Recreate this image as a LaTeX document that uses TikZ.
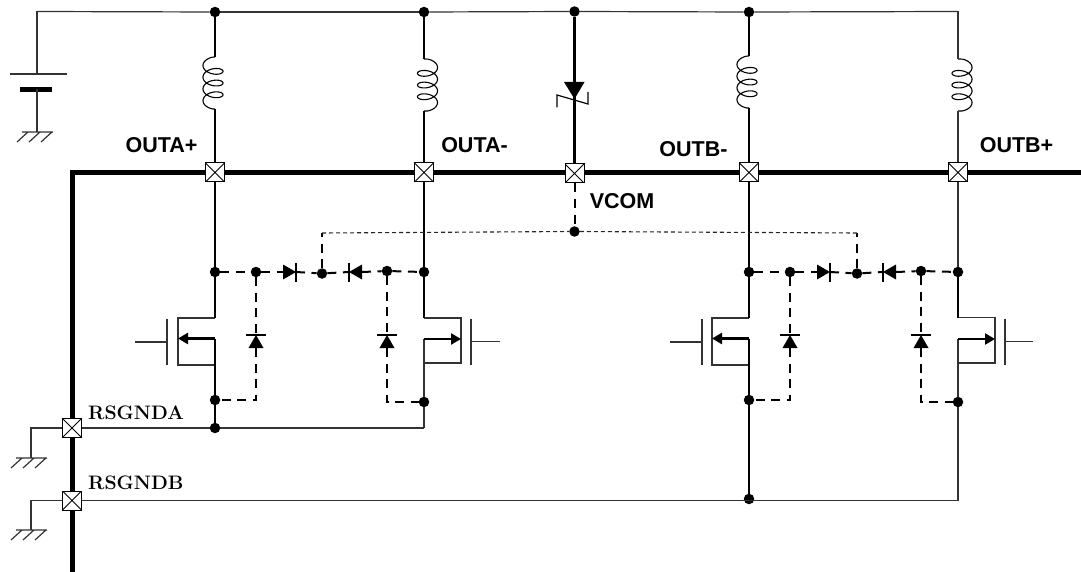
\documentclass[tikz,border=0pt]{standalone}
\usepackage{fontspec}
\setsansfont{Liberation Sans}
\usetikzlibrary{arrows.meta}
\tikzset{
  thinw/.style={line width=1.2pt,color=black!80},
  midw/.style={line width=2.4pt},
  busw/.style={line width=5pt},
  dashw/.style={line width=2pt,dash pattern=on 9pt off 6.5pt},
  finew/.style={line width=1.1pt,color=black!85,dash pattern=on 4pt off 3pt},
  dot/.style={circle,fill=black,inner sep=0pt,minimum size=10.5pt},
  pad/.style={rectangle,draw=black,line width=1pt,fill=white,inner sep=0pt,minimum size=19pt,
    path picture={\draw[line width=.9pt] (path picture bounding box.north west)--(path picture bounding box.south east)
      (path picture bounding box.north east)--(path picture bounding box.south west);}},
  sanslabel/.style={font=\sffamily\bfseries\fontsize{21.5pt}{24pt}\selectfont,inner sep=0pt},
  seriflabel/.style={font=\bfseries\fontsize{19.5pt}{22pt}\selectfont,inner sep=0pt},
  fetarrow/.style={line width=2.4pt,-{Triangle[length=10pt,width=11pt]}},
}
% inductor: centre x, top y, name, side, wire x
\newcommand\coilat[5]{%
  \coordinate (#3t) at (#5,#2); \coordinate (#3b) at (#5,#2+52);
  \draw[line width=1.1pt] (#3t) -- plot[domain=0:1260,samples=200,smooth,variable=\t]
    ({#1-#4*10*sin(\t)},{#2+8.5+(\t-90)*0.0325-5.5*cos(\t)}) -- (#3b);}
% ground: x, y of horizontal bar, name
\newcommand\earth[3]{%
  \coordinate (#3) at (#1,#2);
  \draw[thinw] (#1-15,#2)--(#1+16,#2)
    (#1-20,#2+10)--(#1-9,#2) (#1-8,#2+10)--(#1+3,#2) (#1+4,#2+10)--(#1+15,#2);}
% horizontal diode: bar x, y, direction (+1 tip to right, -1 tip to left), name
\newcommand\hdiode[4]{%
  \fill (#1,#2) -- (#1-#3*13,#2-7.5) -- (#1-#3*13,#2+7.5) -- cycle;
  \draw[line width=2pt] (#1,#2-9.5)--(#1,#2+9.5);
  \coordinate (#4a) at (#1-#3*13,#2); \coordinate (#4c) at (#1,#2);}
% vertical diode, tip upward: x, bar y, name
\newcommand\vdiode[3]{%
  \fill (#1,#2) -- (#1-7.5,#2+13) -- (#1+7.5,#2+13) -- cycle;
  \draw[line width=2pt] (#1-10,#2)--(#1+10,#2);
  \coordinate (#3c) at (#1,#2); \coordinate (#3a) at (#1,#2+13);}
% MOSFET channel box
\newcommand\fetbox[8]{%
  \coordinate (#8d) at (#1,#4); \coordinate (#8s) at (#1,#6); \coordinate (#8m) at (#1,#5);
  \coordinate (#8c) at (#2,#5);
  \draw[thinw] (#8d)--(#2,#4)--(#2,#6)--(#8s);
  \draw[thinw] (#3,#7-23)--(#3,#7+23);}
\begin{document}
\begin{tikzpicture}[x=1pt,y=-1pt]
\useasboundingbox (0,0) rectangle (1081,572);
% pads
\node[pad] (pAp) at (215,172.5) {};
\node[pad] (pAm) at (424,172.5) {};
\node[pad] (pV)  at (574.5,173.5) {};
\node[pad] (pBm) at (749,172.5) {};
\node[pad] (pBp) at (958,172.5) {};
\node[pad] (pGA) at (72,428) {};
\node[pad] (pGB) at (72,500.5) {};
% top rail dots
\node[dot] (tA) at (215,12) {};
\node[dot] (tB) at (424,12) {};
\node[dot] (tV) at (574.5,11.5) {};
\node[dot] (tC) at (749,12) {};
\coordinate (tD) at (958,11.5);
\coordinate (bat) at (37,11.5);
% junction dots
\node[dot] (a1) at (215,272) {};
\node[dot] (a2) at (256,272) {};
\node[dot] (a3) at (322,273.5) {};
\node[dot] (a4) at (387,271) {};
\node[dot] (a5) at (424,272) {};
\node[dot] (a6) at (215,400) {};
\node[dot] (a7) at (215,428) {};
\node[dot] (a8) at (424,402) {};
\node[dot] (b1) at (749,272) {};
\node[dot] (b2) at (790,272) {};
\node[dot] (b3) at (857,273.5) {};
\node[dot] (b4) at (921,271) {};
\node[dot] (b5) at (958,272) {};
\node[dot] (b6) at (749,400) {};
\node[dot] (b7) at (749,499) {};
\node[dot] (b8) at (958,402) {};
\node[dot] (vc) at (574.5,231.5) {};
% rail
\draw[thinw] (bat)--(tA);
\draw[thinw] (tA)--(tB);
\draw[thinw] (tB)--(tV);
\draw[thinw] (tV)--(tC);
\draw[thinw] (tC)--(tD);
% battery
\coordinate (batp) at (37,74); \coordinate (batn) at (37,89);
\draw[thinw] (bat)--(batp);
\draw[line width=1.2pt,color=black!80] (10,74)--(67,74);
\draw[line width=5.5pt] (20,89.5)--(52,89.5);
\earth{37}{132}{gndbat}
\draw[thinw] (batn)--(gndbat);
% bus
\coordinate (bc) at (72,172.5); \coordinate (bend) at (1085,172.5); \coordinate (bbot) at (72,575);
\coordinate (bv1) at (566,172.5); \coordinate (bv2) at (584,172.5);
\draw[busw,line join=miter] (pGA)--(bc)--(pAp);
\draw[busw] (pAp)--(pAm);
\draw[busw] (pAm)--(bv1);
\draw[busw] (bv2)--(pBm);
\draw[busw] (pBm)--(pBp);
\draw[busw] (pBp)--(bend);
\draw[busw] (pGA)--(pGB);
\draw[busw] (pGB)--(bbot);
% inductors
\coilat{213}{57}{la}{1}{215}
\coilat{427.5}{59}{lb}{-1}{424}
\coilat{747}{56}{lc}{1}{749}
\coilat{962}{59}{ld}{-1}{958}
\draw[midw] (tA)--(lat);
\draw[midw] (lab)--(pAp);
\draw[midw] (tB)--(lbt);
\draw[midw] (lbb)--(pAm);
\draw[midw] (tC)--(lct);
\draw[midw] (lcb)--(pBm);
\draw[thinw] (tD)--(ldt);
\draw[thinw] (ldb)--(pBp);
% zener
\draw[midw] (tV)--(pV);
\fill (564,82)--(584.5,82)--(574.5,99)--cycle;
\draw[line width=1.2pt] (557,107.5)--(557,95)--(588,104)--(588,92);
% upper verticals
\draw[midw] (pAp)--(a1);
\draw[midw] (pAm)--(a5);
\draw[midw] (pBm)--(b1);
\draw[thinw] (pBp)--(b5);
% fets
\fetbox{215}{178}{167}{318}{338.5}{365}{342}{fa}
\draw[midw] (a1)--(fad);
\draw[midw] (fam)--(a6);
\draw[midw] (a6)--(a7);
\draw[fetarrow] (fam)--(fac);
\coordinate (gae) at (135,342); \coordinate (gab) at (167,342);
\draw[thinw] (gae)--(gab);
\fetbox{424}{461}{471}{318}{339}{363}{341.5}{fb}
\draw[midw] (a5)--(fbd);
\draw[thinw] (fbm)--(a8);
\coordinate (ac) at (424,428);
\draw[thinw] (a8)--(ac);
\draw[thinw] (ac)--(a7);
\draw[fetarrow] (fbm)--(fbc);
\coordinate (gbe) at (500,341.5); \coordinate (gbb) at (471,341.5);
\draw[thinw] (gbe)--(gbb);
\fetbox{749}{712}{702}{318}{338.5}{365}{342}{fc}
\draw[midw] (b1)--(fcd);
\draw[midw] (fcm)--(b6);
\draw[midw] (b6)--(b7);
\draw[fetarrow] (fcm)--(fcc);
\coordinate (gce) at (670,342); \coordinate (gcb) at (702,342);
\draw[thinw] (gce)--(gcb);
\fetbox{958}{995}{1005}{317.5}{339}{363}{341.5}{fd}
\draw[midw] (b5)--(fdd);
\draw[thinw] (fdm)--(b8);
\coordinate (br) at (958,500.5);
\draw[thinw] (b8)--(br);
\draw[fetarrow] (fdm)--(fdc);
\coordinate (gde) at (1033,341.5); \coordinate (gdb) at (1005,341.5);
\draw[thinw] (gde)--(gdb);
% bottom lines
\draw[thinw] (pGA)--(a7);
\draw[thinw] (pGB)--(br);
% dashed block
\hdiode{296}{272}{1}{da}
\hdiode{349}{272}{-1}{db}
\hdiode{830}{272}{1}{dc}
\hdiode{883}{272}{-1}{dd}
\vdiode{256}{335}{ve}
\vdiode{387}{335}{vf}
\vdiode{790}{335}{vg}
\vdiode{921}{335}{vh}
\draw[dashw] (a1)--(a2);
\draw[dashw] (a2)--(daa);
\draw[dashw] (dac)--(a3);
\draw[dashw] (a3)--(dbc);
\draw[dashw] (dba)--(a4);
\draw[dashw] (a4)--(a5);
\draw[dashw] (b1)--(b2);
\draw[dashw] (b2)--(dca);
\draw[dashw] (dcc)--(b3);
\draw[dashw] (b3)--(ddc);
\draw[dashw] (dda)--(b4);
\draw[dashw] (b4)--(b5);
\draw[dashw] (a2)--(vec);
\draw[dashw] (vea)--(256,400)--(a6);
\draw[dashw] (a4)--(vfc);
\draw[dashw] (vfa)--(387,402)--(a8);
\draw[dashw] (b2)--(vgc);
\draw[dashw] (vga)--(790,400)--(b6);
\draw[dashw] (b4)--(vhc);
\draw[dashw] (vha)--(921,402)--(b8);
% VCOM
\draw[dashw] (pV)--(vc);
\coordinate (cl) at (322,233); \coordinate (cr) at (857,233);
\draw[dashw] (a3)--(cl);
\draw[dashw] (b3)--(cr);
\draw[finew] (cl)--(vc);
\draw[finew] (vc)--(cr);
% grounds
\earth{31}{458}{ge}
\earth{31}{530}{gf}
\coordinate (sa) at (31,428); \coordinate (sb) at (31,500.5);
\draw[thinw] (pGA)--(sa)--(ge);
\draw[thinw] (pGB)--(sb)--(gf);
% labels
\node[sanslabel] (lOAp) at (161.5,145) {OUTA+};
\node[sanslabel] (lOAm) at (474.5,145) {OUTA-};
\node[sanslabel] (lOBm) at (693.5,149.5) {OUTB-};
\node[sanslabel] (lOBp) at (1016.5,145) {OUTB+};
\node[sanslabel] (lV) at (622,201.5) {VCOM};
\node[seriflabel,anchor=west] (lGA) at (88,413) {RSGNDA};
\node[seriflabel,anchor=west] (lGB) at (88,483) {RSGNDB};
\end{tikzpicture}
\end{document}
